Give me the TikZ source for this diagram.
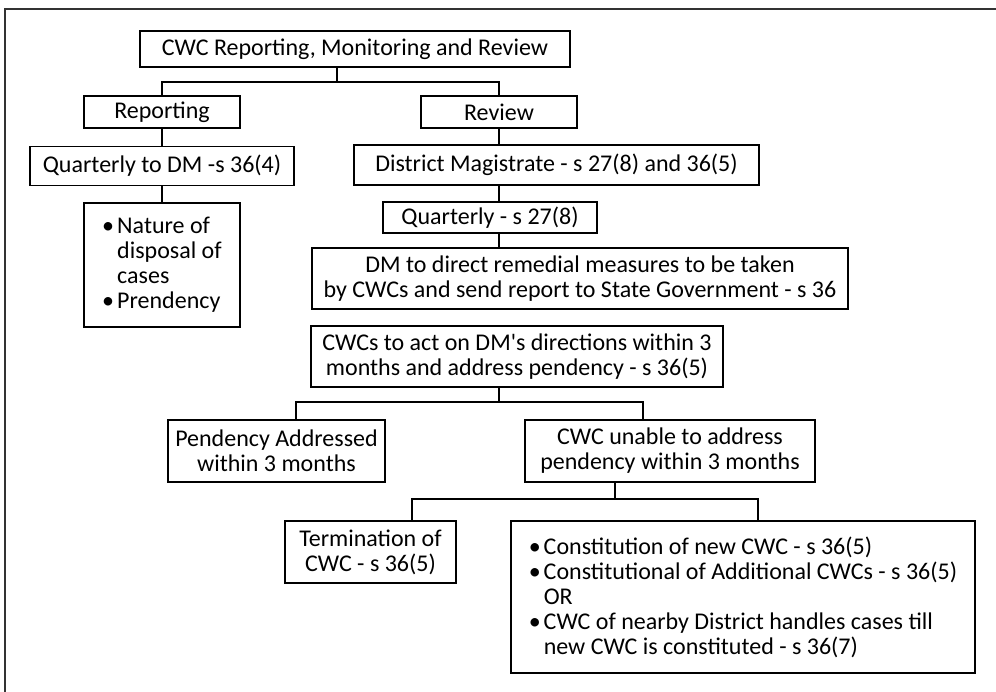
\documentclass[tikz,border=0pt]{standalone}
\usepackage{fontspec}
\setmainfont{Carlito}
\usetikzlibrary{positioning}

\newcommand{\bul}{\makebox[15pt][l]{\textbullet}}
\newcommand{\ind}{\hspace*{15pt}}

\begin{document}
\begin{tikzpicture}[x=1pt,y=-1pt,line width=1.6pt,
  box/.style={draw,inner sep=0pt,align=center,font=\fontsize{24}{25}\selectfont}]
\useasboundingbox (0,0) rectangle (996,691);

% frame
\draw[line width=1.8pt,black!80] (1000,9) -- (5,9) -- (5,695);

\node[box,minimum width=430pt,minimum height=36pt] (title) at (355,49) {CWC Reporting, Monitoring and Review};

\node[box,minimum width=156pt,minimum height=32pt] (rep) at (162,112) {Reporting};
\node[box,minimum width=264pt,minimum height=39pt,below=17pt of rep] (qdm) {Quarterly to DM -s 36(4)};
\node[box,align=left,minimum width=156pt,minimum height=124pt,below=16pt of qdm] (nat)
  {\bul Nature of\\ \ind disposal of\\ \ind cases\\ \bul Prendency};

\node[box,minimum width=156pt,minimum height=32pt] (rev) at (499,112) {Review};
\node[box,minimum width=405pt,minimum height=40pt] (dmag) at (556.5,165) {District Magistrate - s 27(8) and 36(5)};
\node[box,minimum width=214pt,minimum height=31pt] (qtr) at (490,217.5) {Quarterly - s 27(8)};
\node[box,minimum width=536pt,minimum height=61pt] (dmdir) at (580,278.5)
  {DM to direct remedial measures to be taken\\ by CWCs and send report to State Government - s 36};

\node[box,minimum width=412pt,minimum height=61pt] (act) at (517,356.5)
  {CWCs to act on DM\textquotesingle s directions within 3\\ months and address pendency - s 36(5)};
\node[box,minimum width=217pt,minimum height=62pt] (done) at (276.5,451) {Pendency Addressed\\ within 3 months};
\node[box,minimum width=290pt,minimum height=62pt] (unable) at (670,451) {CWC unable to address\\ pendency within 3 months};

\node[box,minimum width=171pt,minimum height=62pt] (term) at (370.5,552) {Termination of\\ CWC - s 36(5)};
\node[box,align=left,minimum width=464pt,minimum height=152pt] (opts) at (743,597)
  {\bul Constitution of new CWC - s 36(5)\\
   \bul Constitutional of Additional CWCs - s 36(5)\\
   \ind OR\\
   \bul CWC of nearby District handles cases till\\
   \ind new CWC is constituted - s 36(7)};

% connectors
\coordinate (j1) at (337,82);
\draw (title.south -| j1) -- (j1);
\draw (rep.north) |- (j1) -| (rev.north);
\draw (rep) -- (qdm);
\draw (qdm) -- (nat);

\draw (rev.south) -- (rev.south |- dmag.north);
\draw (dmag.south -| rev.south) -- (qtr.north -| rev.south);
\draw (qtr.south -| rev.south) -- (dmdir.north -| rev.south);

\coordinate (j2) at (499,402);
\coordinate (j2l) at (296,402);
\coordinate (j2r) at (643,402);
\draw (act.south -| j2) -- (j2);
\draw (j2l |- done.north) -- (j2l) -- (j2r) -- (j2r |- unable.north);

\coordinate (j3) at (615,499);
\coordinate (j3l) at (412,499);
\coordinate (j3r) at (758,499);
\draw (unable.south -| j3) -- (j3);
\draw (j3l |- term.north) -- (j3l) -- (j3r) -- (j3r |- opts.north);
\end{tikzpicture}
\end{document}
